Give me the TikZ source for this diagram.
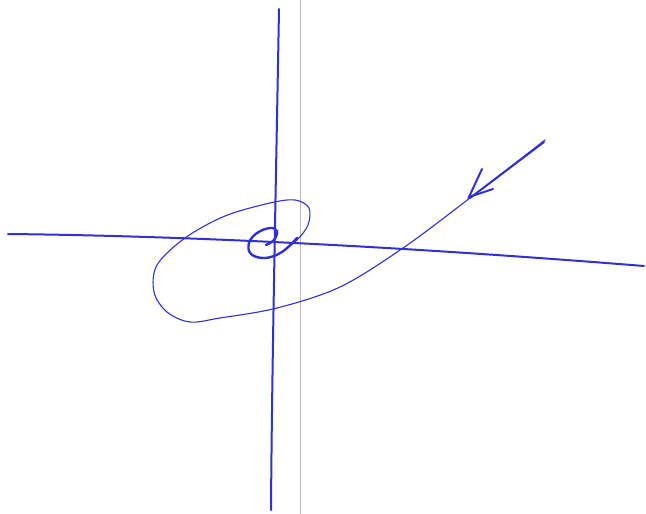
\documentclass[tikz,border=0pt]{standalone}
\usepackage{tikz}
\definecolor{penblue}{RGB}{48,48,215}
\tikzset{
  foldline/.style={draw=gray!55, line width=0.7pt},
  axisline/.style={draw=penblue, line width=2pt, line cap=round},
  spiral/.style={draw=penblue, line width=1.1pt, line cap=round, line join=round},
  innerloop/.style={draw=penblue, line width=2.4pt, line cap=round, line join=round},
  arrowbarb/.style={draw=penblue, line width=2pt, line cap=round}
}

\begin{document}
\begin{tikzpicture}[x=1pt, y=-1pt]
  \useasboundingbox (0,0) rectangle (646,514);
  % page fold
  \draw[foldline] (300,0) -- (300,514);
  % axes
  \draw[axisline] (279,9) .. controls (276,180) and (272,360) .. (271,510);
  \draw[axisline] (8,234) .. controls (200,236) and (420,248) .. (644,266);
  % trajectory spiralling into the origin
  \draw[spiral] plot[smooth, tension=0.55] coordinates {
    (545,140) (470,198) (403,248) (340,287) (277,308) (220,318)
    (190,322) (167,312) (154,292) (157,265) (185,238) (225,216)
    (270,203) (295,200) (309,208) (308,225) (297,240) (282,252)};
  \draw[innerloop] plot[smooth, tension=0.65] coordinates {
    (297,238) (282,252) (265,258) (251,254) (249,243) (257,233) (270,228)
    (277,231) (274,240) (266,245)};
  % arrow
  \draw[arrowbarb] (544,142) -- (470,198);
  \draw[arrowbarb] (482,169) -- (469,197) -- (493,189);
\end{tikzpicture}
\end{document}
